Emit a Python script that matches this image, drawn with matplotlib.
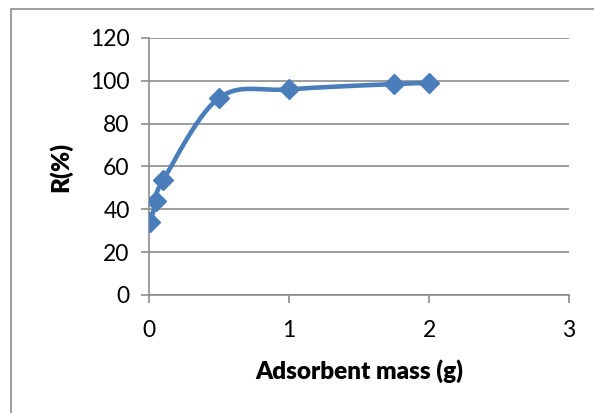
import numpy as np
import matplotlib.pyplot as plt
from matplotlib.patches import Rectangle

plt.rcParams['font.family'] = ['Lato', 'DejaVu Sans']

# adsorbent mass (g) vs removal (%)
mass = [0.01, 0.05, 0.1, 0.5, 1.0, 1.75, 2.0]
removal = [34, 44, 53.5, 92, 96, 98.5, 99]
xticks = [0, 1, 2, 3]
yticks = [0, 20, 40, 60, 80, 100, 120]

blue = '#4A7EBB'
grid_grey = '#8C8C8C'


#smoothed curve like a spreadsheet "smoothed line" (cubic bezier through the points)
def smooth_curve(x, y, n=40):
    pts = np.column_stack((x, y)).astype(float)
    padded = np.vstack((pts[0], pts, pts[-1]))
    out = []
    for i in range(len(pts) - 1):
        p0, p1, p2, p3 = padded[i], padded[i + 1], padded[i + 2], padded[i + 3]
        c1 = p1 + (p2 - p0) / 6.0
        c2 = p2 - (p3 - p1) / 6.0
        t = np.linspace(0, 1, n)[:, None]
        seg = ((1 - t) ** 3) * p1 + 3 * ((1 - t) ** 2) * t * c1 + 3 * (1 - t) * t ** 2 * c2 + t ** 3 * p2
        out.append(seg if i == 0 else seg[1:])
    seg_all = np.vstack(out)
    return seg_all[:, 0], seg_all[:, 1]


fig = plt.figure(figsize=(5.94, 4.13), dpi=100)
ax = fig.add_axes([0.251, 0.286, 0.707, 0.622])

sx, sy = smooth_curve(mass, removal)
ax.plot(sx, sy, color=blue, lw=3.3, solid_capstyle='round', zorder=3)
ax.plot(mass, removal, linestyle='none', marker='D', ms=10, color=blue, zorder=4)

ax.set_xlim(0, 3)
ax.set_ylim(0, 120)
ax.set_xticks(xticks)
ax.set_yticks(yticks)
ax.tick_params(axis='both', labelsize=16.5, color=grid_grey, width=1.2, length=6,
               direction='out', pad=8)
ax.tick_params(axis='x', pad=12)
ax.yaxis.grid(True, color=grid_grey, lw=1.2)
ax.set_axisbelow(True)
for side in ['top', 'right']:
    ax.spines[side].set_visible(False)
for side in ['left', 'bottom']:
    ax.spines[side].set_color(grid_grey)
    ax.spines[side].set_linewidth(1.2)

ax.set_xlabel('Adsorbent mass (g)', fontsize=17.5, fontweight='heavy', labelpad=13)
ax.set_ylabel('R(%)', fontsize=17.5, fontweight='heavy', labelpad=13)

#chart area border
fig.patches.append(Rectangle((11 / 594, -0.05), 1.0, 1 - 9 / 413 + 0.05,
                             transform=fig.transFigure, fill=False,
                             edgecolor='#8C8C8C', lw=1.2))

fig.savefig('out.png', dpi=100)
